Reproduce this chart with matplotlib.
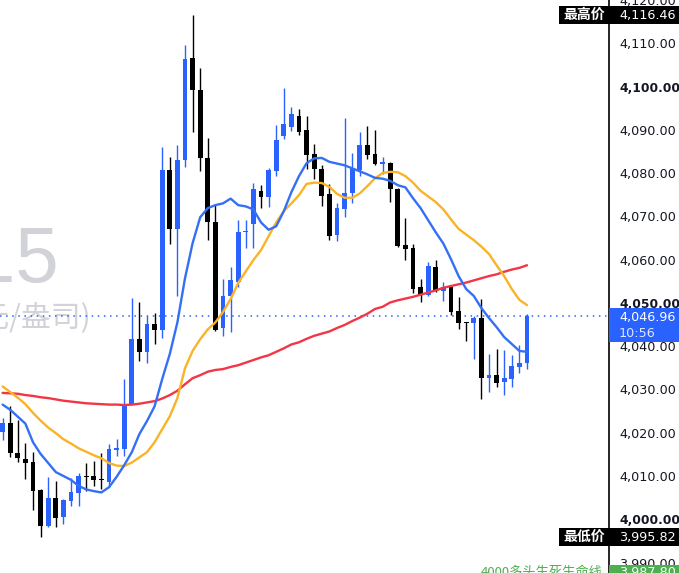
import matplotlib
matplotlib.use("Agg")
import matplotlib.pyplot as plt
from matplotlib import transforms
from matplotlib.patches import Rectangle

# ---------------- data ----------------
opens = [4020.2, 4022.3, 4015.2, 4013.9, 4013.2, 4006.7, 3998.5, 4005.0, 4000.6, 4004.3,
         4006.1, 4010.0, 4010.0, 4009.4, 4008.6, 4016.0, 4016.3, 4026.6, 4041.6, 4038.7,
         4045.2, 4043.7, 4080.6, 4067.0, 4083.0, 4106.5, 4099.3, 4083.5, 4068.7, 4044.3,
         4051.5, 4054.9, 4066.4, 4068.3, 4075.8, 4074.5, 4080.5, 4088.6, 4090.6, 4093.1,
         4089.9, 4084.3, 4081.0, 4075.1, 4065.8, 4071.8, 4075.3, 4080.7, 4086.6, 4084.3,
         4082.2, 4082.4, 4076.4, 4063.3, 4062.6, 4053.6, 4051.8, 4058.2, 4052.8, 4053.6,
         4048.1, 4045.6, 4045.4, 4046.5, 4032.7, 4033.3, 4031.8, 4032.4, 4035.2, 4036.1]
highs = [4023.4, 4026.1, 4022.9, 4017.7, 4015.6, 4006.9, 4009.8, 4008.8, 4004.7, 4009.5,
         4010.7, 4013.1, 4013.5, 4015.2, 4017.3, 4018.5, 4032.4, 4051.2, 4050.1, 4046.9,
         4047.6, 4086.0, 4083.7, 4086.6, 4109.7, 4116.46, 4104.4, 4088.0, 4072.6, 4055.6,
         4058.3, 4069.1, 4069.1, 4077.6, 4077.3, 4081.2, 4091.0, 4099.6, 4095.3, 4094.7,
         4093.3, 4086.8, 4081.8, 4077.4, 4073.0, 4092.8, 4084.6, 4089.4, 4090.9, 4090.0,
         4083.7, 4082.6, 4076.5, 4069.7, 4063.5, 4055.6, 4059.4, 4059.9, 4054.8, 4053.8,
         4051.4, 4045.7, 4046.9, 4051.0, 4038.2, 4039.3, 4039.1, 4037.9, 4040.2, 4047.4]
lows = [4018.3, 4014.4, 4013.3, 4009.4, 4002.1, 3995.82, 3998.3, 3998.3, 3999.0, 4003.0,
        4003.0, 4006.6, 4007.7, 4006.9, 4007.4, 4014.6, 4014.6, 4026.4, 4036.6, 4036.0,
        4040.6, 4041.8, 4063.5, 4051.6, 4081.4, 4089.5, 4080.5, 4064.5, 4043.5, 4042.3,
        4043.3, 4053.7, 4062.7, 4062.6, 4072.0, 4072.2, 4079.3, 4087.8, 4089.7, 4088.7,
        4080.9, 4078.6, 4072.4, 4064.5, 4064.3, 4069.9, 4073.0, 4079.4, 4083.2, 4081.8,
        4079.9, 4073.3, 4062.9, 4060.0, 4052.2, 4050.2, 4051.6, 4052.5, 4050.5, 4047.3,
        4043.9, 4041.2, 4037.0, 4027.9, 4029.4, 4030.6, 4028.7, 4030.6, 4033.7, 4034.8]
closes = [4022.3, 4015.2, 4014.1, 4013.0, 4006.6, 3998.5, 4005.0, 4000.4, 4004.4, 4006.3,
          4010.1, 4009.8, 4009.0, 4009.0, 4016.2, 4016.4, 4026.6, 4041.6, 4038.7, 4045.1,
          4043.7, 4080.6, 4067.0, 4083.0, 4106.3, 4099.1, 4083.5, 4068.7, 4043.7, 4051.5,
          4055.2, 4066.4, 4066.7, 4076.4, 4074.5, 4080.6, 4087.7, 4091.3, 4093.6, 4089.6,
          4084.1, 4080.9, 4074.7, 4065.5, 4071.9, 4075.3, 4080.9, 4086.4, 4084.1, 4082.0,
          4082.5, 4076.4, 4063.1, 4062.5, 4053.1, 4051.8, 4058.5, 4052.7, 4053.6, 4047.9,
          4045.4, 4045.4, 4046.5, 4032.7, 4033.3, 4031.6, 4032.6, 4035.4, 4036.1, 4046.96]

ma10 = [4026.5, 4025.3, 4023.7, 4022.1, 4017.8, 4015.1, 4013.0, 4010.9, 4010.0, 4009.1,
        4007.7, 4006.9, 4006.5, 4006.2, 4007.4, 4009.8, 4012.5, 4015.5, 4019.7, 4022.7,
        4026.1, 4032.4, 4038.2, 4045.5, 4055.7, 4063.8, 4069.8, 4071.9, 4072.6, 4073.0,
        4074.1, 4072.6, 4072.3, 4071.6, 4068.6, 4066.9, 4067.7, 4071.2, 4075.6, 4079.3,
        4082.3, 4083.4, 4083.5, 4082.6, 4082.2, 4081.8, 4081.1, 4080.4, 4079.7, 4078.9,
        4078.7, 4078.2, 4077.2, 4076.7, 4074.2, 4071.9, 4069.1, 4066.3, 4063.7, 4060.1,
        4056.2, 4053.2, 4051.6, 4048.8, 4046.5, 4044.4, 4042.1, 4040.5, 4038.9, 4038.7]
ma20 = [4030.7, 4029.4, 4028.1, 4026.6, 4024.6, 4022.8, 4021.2, 4019.9, 4018.5, 4017.5,
        4016.4, 4015.6, 4014.8, 4014.1, 4013.0, 4012.4, 4012.3, 4013.1, 4014.3, 4015.5,
        4017.8, 4020.8, 4023.8, 4028.0, 4034.9, 4038.9, 4041.6, 4043.9, 4045.5, 4047.9,
        4050.9, 4054.6, 4057.3, 4059.9, 4062.2, 4065.4, 4068.6, 4071.2, 4073.0, 4074.9,
        4077.5, 4077.8, 4077.7, 4076.8, 4075.2, 4074.3, 4074.3, 4075.3, 4077.0, 4078.8,
        4080.0, 4080.3, 4080.2, 4079.3, 4077.8, 4075.9, 4074.6, 4073.3, 4071.6, 4069.3,
        4067.1, 4065.8, 4064.5, 4063.0, 4061.3, 4058.7, 4056.2, 4053.2, 4050.7, 4049.5]
ma60 = [4029.2, 4029.1, 4029.0, 4028.7, 4028.5, 4028.2, 4028.0, 4027.7, 4027.4, 4027.2,
        4027.0, 4026.8, 4026.7, 4026.6, 4026.5, 4026.5, 4026.4, 4026.5, 4026.7, 4027.0,
        4027.3, 4027.9, 4028.7, 4029.7, 4031.2, 4032.6, 4033.3, 4034.1, 4034.5, 4034.7,
        4035.2, 4035.6, 4036.2, 4036.8, 4037.4, 4037.9, 4038.7, 4039.5, 4040.4, 4040.9,
        4041.7, 4042.4, 4042.9, 4043.4, 4044.2, 4044.9, 4045.8, 4046.6, 4047.5, 4048.6,
        4049.1, 4050.1, 4050.6, 4051.0, 4051.4, 4051.9, 4052.4, 4052.9, 4053.5, 4053.9,
        4054.3, 4054.7, 4055.2, 4055.7, 4056.2, 4056.6, 4057.2, 4057.7, 4058.1, 4058.7]

last_price = 4046.96
last_time = "10:56"
high_label = ("最高价", 4116.46)
low_label = ("最低价", 3995.82)
line_label = ("4000多头生死生命线", 3987.80)
y_ticks = list(range(3990, 4121, 10))
watermark_1 = "XAUUSD, 15"
watermark_2 = "黄金现货 (美元/盎司)"

# ---------------- style ----------------
BLUE = "#2962FF"
MA_BLUE = "#3370F5"
ORANGE = "#FBB326"
RED = "#F23645"
GREEN = "#4CAF50"
W, H, DPI = 679, 573, 100
AX_RIGHT = 609 / W

plt.rcParams["font.family"] = ["DejaVu Sans", "Noto Sans CJK SC"]

fig = plt.figure(figsize=(W / DPI, H / DPI), dpi=DPI)
fig.patch.set_facecolor("white")
ax = fig.add_axes([0, 0, AX_RIGHT, 1])
ax.set_facecolor("white")

n = len(closes)
xs = list(range(n))
ax.set_xlim(-0.342, 79.79)
ax.set_ylim(3987.58, 4119.91)

# watermark (figure pixel positions, top-left origin)
ax.text(59 / W, 1 - 282 / H, watermark_1, transform=fig.transFigure, fontsize=56,
        color="#d1d3d9", ha="right", va="baseline",
        family=["Liberation Sans", "DejaVu Sans"], zorder=0)
ax.text(91 / W, 1 - 327 / H, watermark_2, transform=fig.transFigure, fontsize=21.5,
        color="#d1d3d9", ha="right", va="baseline",
        family=["Noto Sans CJK SC", "DejaVu Sans"], zorder=0)

# candles
for i in xs:
    o, h, l, c = opens[i], highs[i], lows[i], closes[i]
    col = BLUE if c >= o else "#000000"
    ax.vlines(i, l, h, color=col, lw=1.0, zorder=3)
    bot = min(o, c)
    hgt = max(abs(c - o), 0.28)
    ax.bar(i, hgt, bottom=bot, width=0.64, color=col, edgecolor=col, lw=0, zorder=3)

# moving averages
ax.plot(xs, ma60, color=RED, lw=1.7, zorder=4, solid_capstyle="round")
ax.plot(xs, ma20, color=ORANGE, lw=1.7, zorder=4, solid_capstyle="round")
ax.plot(xs, ma10, color=MA_BLUE, lw=1.7, zorder=4, solid_capstyle="round")

# last price dotted line
ax.axhline(last_price, color=BLUE, lw=1.1, ls=(0, (1, 3)), zorder=2)

# axes styling
for s in ["top", "left", "bottom"]:
    ax.spines[s].set_visible(False)
ax.spines["right"].set_color("#000000")
ax.spines["right"].set_linewidth(1.2)
ax.set_xticks([])
ax.yaxis.tick_right()
ax.set_yticks(y_ticks)
ax.set_yticklabels([f"{v:,.2f}" for v in y_ticks])
ax.tick_params(axis="y", length=0, pad=7.5, labelsize=9.2, labelcolor="#131722")
for lab, v in zip(ax.get_yticklabels(), y_ticks):
    if v % 50 == 0:
        lab.set_fontweight("bold")
        lab.set_fontsize(8.9)

# price label boxes (figure x, data y)
bt = transforms.blended_transform_factory(fig.transFigure, ax.transData)
px = 1.0 / 4.33  # price units per pixel

def side_box(x0_px, price, up_px, down_px, color):
    r = Rectangle((x0_px / W, price - down_px * px), 1 - x0_px / W, (up_px + down_px) * px,
                  transform=bt, facecolor=color, edgecolor="none", clip_on=False, zorder=20)
    fig.add_artist(r)

for name, val in [high_label, low_label]:
    side_box(559, val, 9, 9, "#000000")
    fig.text(584 / W, val, name, transform=bt, color="white", fontsize=10, fontweight="bold",
             ha="center", va="center", family=["Noto Sans CJK SC", "DejaVu Sans"], zorder=21)
    fig.text(619 / W, val, f"{val:,.2f}", transform=bt, color="white", fontsize=9.2,
             ha="left", va="center", zorder=21)

# current price box
side_box(609, last_price, 8.2, 25.8, BLUE)
fig.text(619 / W, last_price - 0.3, f"{last_price:,.2f}", transform=bt, color="white",
         fontsize=9.2, ha="left", va="center", zorder=21)
fig.text(619 / W, last_price - 17 * px, last_time, transform=bt, color="#dfe6ff",
         fontsize=9.2, ha="left", va="center", zorder=21)

# green line label at bottom
name, val = line_label
side_box(609, val, 7.5, 8, GREEN)
fig.text(619 / W, val, f"{val:,.2f}", transform=bt, color="white", fontsize=9.2,
         ha="left", va="center", zorder=21)
fig.text(603 / W, val, name, transform=bt, color=GREEN, fontsize=9.5,
         ha="right", va="center", family=["Noto Sans CJK SC", "DejaVu Sans"], zorder=21)

fig.savefig("out.png", dpi=DPI, facecolor="white")
